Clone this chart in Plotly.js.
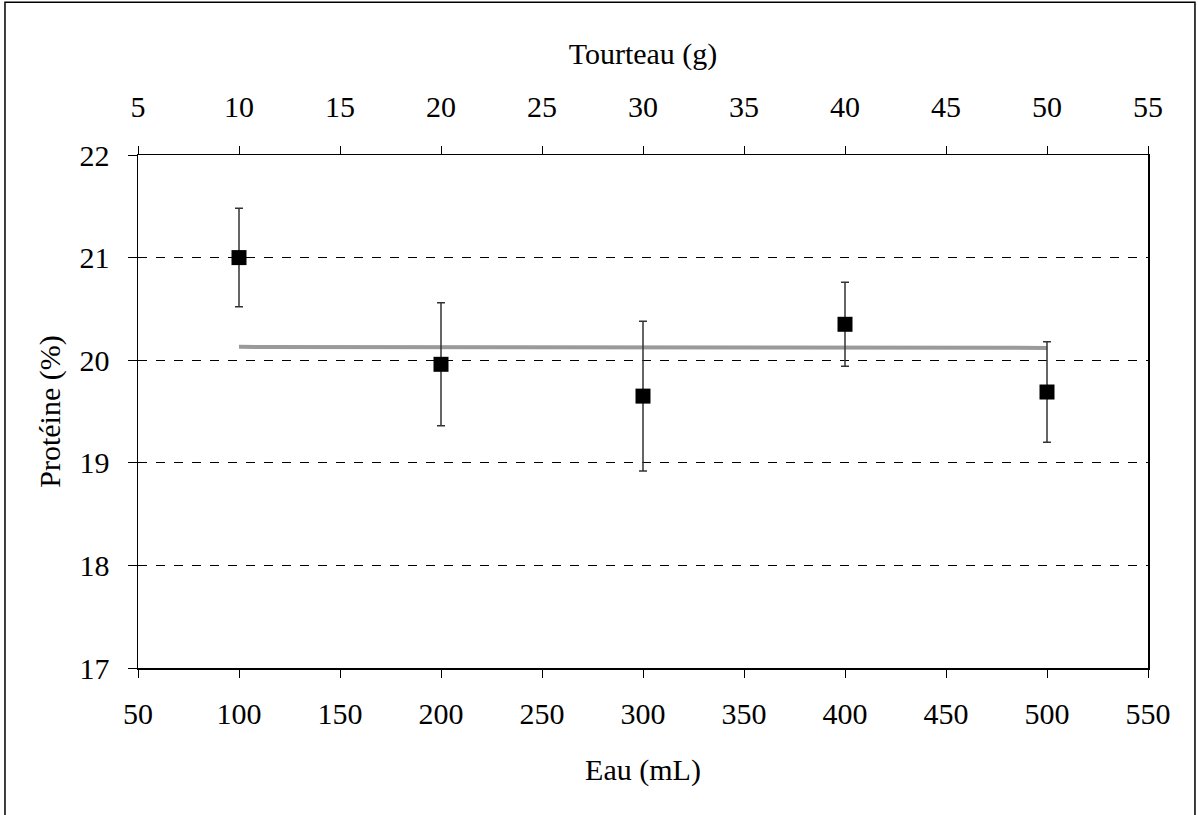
<!DOCTYPE html>
<html>
<head>
<meta charset="utf-8">
<script src="https://cdn.plot.ly/plotly-3.0.1.min.js"></script>
<style>
html,body{margin:0;padding:0;background:#fff;}
#chart{width:1198px;height:815px;}
</style>
</head>
<body>
<div id="chart"></div>
<script>
// Data
const eau = [100, 200, 300, 400, 500];          // Eau (mL)
const tourteau = [10, 20, 30, 40, 50];          // Tourteau (g)
const proteine = [21.0, 19.96, 19.65, 20.35, 19.69]; // Protéine (%)
const erreur = [0.48, 0.6, 0.73, 0.41, 0.49];   // error bars
const moyenneX = [100, 500];
const moyenneY = [20.13, 20.12];

const font = {family: "'Liberation Serif', 'Times New Roman', Times, 'DejaVu Serif', serif", size: 30, color: '#000'};

const traces = [
  {
    x: moyenneX, y: moyenneY, type: 'scatter', mode: 'lines',
    line: {color: '#9a9a9a', width: 4},
    hoverinfo: 'skip', showlegend: false
  },
  {
    x: eau, y: proteine, type: 'scatter', mode: 'markers',
    marker: {symbol: 'square', size: 15, color: '#000'},
    error_y: {type: 'data', array: erreur, visible: true, color: '#333', thickness: 1.5, width: 4},
    showlegend: false
  },
  {
    x: tourteau, y: proteine, xaxis: 'x2', type: 'scatter', mode: 'markers',
    marker: {opacity: 0}, hoverinfo: 'skip', showlegend: false
  },
  {
    x: eau, y: proteine, yaxis: 'y2', type: 'scatter', mode: 'markers',
    marker: {opacity: 0}, hoverinfo: 'skip', showlegend: false
  }
];

const layout = {
  width: 1198, height: 815,
  margin: {l: 138, r: 50, t: 155, b: 147},
  paper_bgcolor: '#fff', plot_bgcolor: '#fff',
  font: font,
  showlegend: false,
  xaxis: {
    range: [50, 550], dtick: 50, tick0: 50,
    showline: true, linecolor: '#000', linewidth: 1.5, mirror: false,
    ticks: 'outside', ticklen: 8, tickcolor: '#000',
    ticklabelstandoff: 10,
    showgrid: false, zeroline: false,
    tickfont: font,
    title: {text: 'Eau (mL)', font: font, standoff: 30}
  },
  xaxis2: {
    overlaying: 'x', side: 'top', anchor: 'y',
    range: [5, 55], dtick: 5, tick0: 5,
    showline: true, linecolor: '#000', linewidth: 1.5,
    ticks: 'outside', ticklen: 8, tickcolor: '#000',
    ticklabelstandoff: 17,
    showgrid: false, zeroline: false,
    tickfont: font,
    title: {text: 'Tourteau (g)', font: font, standoff: 16}
  },
  yaxis: {
    range: [17, 22], dtick: 1, tick0: 17,
    showline: true, linecolor: '#000', linewidth: 1.5, mirror: true,
    ticks: 'outside', ticklen: 9, tickcolor: '#000',
    ticklabelstandoff: 12,
    showgrid: true, gridcolor: '#000', gridwidth: 1, griddash: 'dash',
    zeroline: false,
    tickfont: font,
    title: {text: 'Protéine (%)', font: font, standoff: 10}
  },
  yaxis2: {
    overlaying: 'y', side: 'left', anchor: 'x',
    range: [17, 22], dtick: 1, tick0: 17,
    showline: false, ticks: 'inside', ticklen: 9, tickcolor: '#000',
    showticklabels: false, showgrid: false, zeroline: false
  },
  shapes: [
    {type: 'rect', xref: 'paper', yref: 'paper',
     x0: -0.1317, x1: 1.0465, y0: -0.35, y1: 1.2977,
     line: {color: '#000', width: 1.5}, fillcolor: 'rgba(0,0,0,0)', layer: 'below'}
  ]
};

Plotly.newPlot('chart', traces, layout, {displayModeBar: false, staticPlot: true});
</script>
</body>
</html>
